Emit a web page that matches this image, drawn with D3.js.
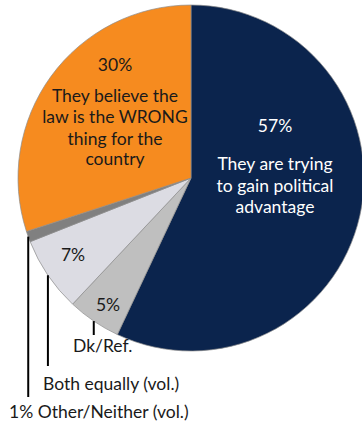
<!DOCTYPE html>
<html>
<head>
<meta charset="utf-8">
<script src="https://cdn.jsdelivr.net/npm/d3@7"></script>
<style>
  body { margin: 0; background: #fff; }
  svg { display: block; font-family: Lato, "Open Sans", sans-serif; }
</style>
</head>
<body>
<svg class="pie" width="362" height="426"></svg>
<script>
// data, clockwise from 12 o'clock
var categories = ["They are trying to gain political advantage", "Dk/Ref.", "Both equally (vol.)", "Other/Neither (vol.)", "They believe the law is the WRONG thing for the country"];
var values = [57, 5, 7, 1, 30];
var colors = ["#0b244d", "#bfbfbf", "#dcdce3", "#808080", "#f68b1f"];

var svg = d3.select(".pie");
var cx = 191, cy = 178, radius = 173;
var fs = "17.5px";

var g = svg.append("g")
    .attr("transform", `translate(${cx}, ${cy})`);

var pie = d3.pie().sort(null).value(d => d)(values);
var arc = d3.arc().innerRadius(0).outerRadius(radius);

g.selectAll("path")
    .data(pie)
    .join("path")
    .attr("d", arc)
    .attr("fill", (d, i) => colors[i])
    .attr("stroke", "#8c8c8c")
    .attr("stroke-width", 0.7);

// labels inside the big slices
function block(lines, x, y, fill) {
    var t = svg.append("text")
        .attr("text-anchor", "middle")
        .attr("font-size", fs)
        .attr("fill", fill);
    lines.forEach(function (l, k) {
        t.append("tspan")
            .attr("x", x)
            .attr("y", y + l[1])
            .text(l[0]);
    });
}

// navy slice
block([[values[0] + "%", 0], ["They are trying", 38], ["to gain political", 60], ["advantage", 81]], 275, 132, "#ffffff");
// orange slice
block([[values[4] + "%", 0], ["They believe the", 31], ["law is the WRONG", 52], ["thing for the", 74], ["country", 94]], 115, 71, "#1a1a1a");

// small percentages
svg.append("text")
    .attr("x", 73).attr("y", 261)
    .attr("text-anchor", "middle")
    .attr("font-size", fs)
    .attr("fill", "#1a1a1a")
    .text(values[2] + "%");
svg.append("text")
    .attr("x", 108).attr("y", 311)
    .attr("text-anchor", "middle")
    .attr("font-size", fs)
    .attr("fill", "#1a1a1a")
    .text(values[1] + "%");

// leader lines from slice middle straight down
var leaders = [
    { i: 1, yEnd: 335, tx: 73, ty: 352, text: categories[1] },
    { i: 2, yEnd: 366, tx: 43, ty: 390, text: categories[2] },
    { i: 3, yEnd: 397, tx: 9, ty: 418, text: values[3] + "% " + categories[3] }
];

leaders.forEach(function (l) {
    var d = pie[l.i];
    var p = d3.pointRadial((d.startAngle + d.endAngle) / 2, radius);
    svg.append("line")
        .attr("x1", cx + p[0])
        .attr("x2", cx + p[0])
        .attr("y1", cy + p[1])
        .attr("y2", l.yEnd)
        .attr("stroke", "#000")
        .attr("stroke-width", 2);
    svg.append("text")
        .attr("x", l.tx)
        .attr("y", l.ty)
        .attr("font-size", fs)
        .attr("fill", "#1a1a1a")
        .text(l.text);
});
</script>
</body>
</html>
